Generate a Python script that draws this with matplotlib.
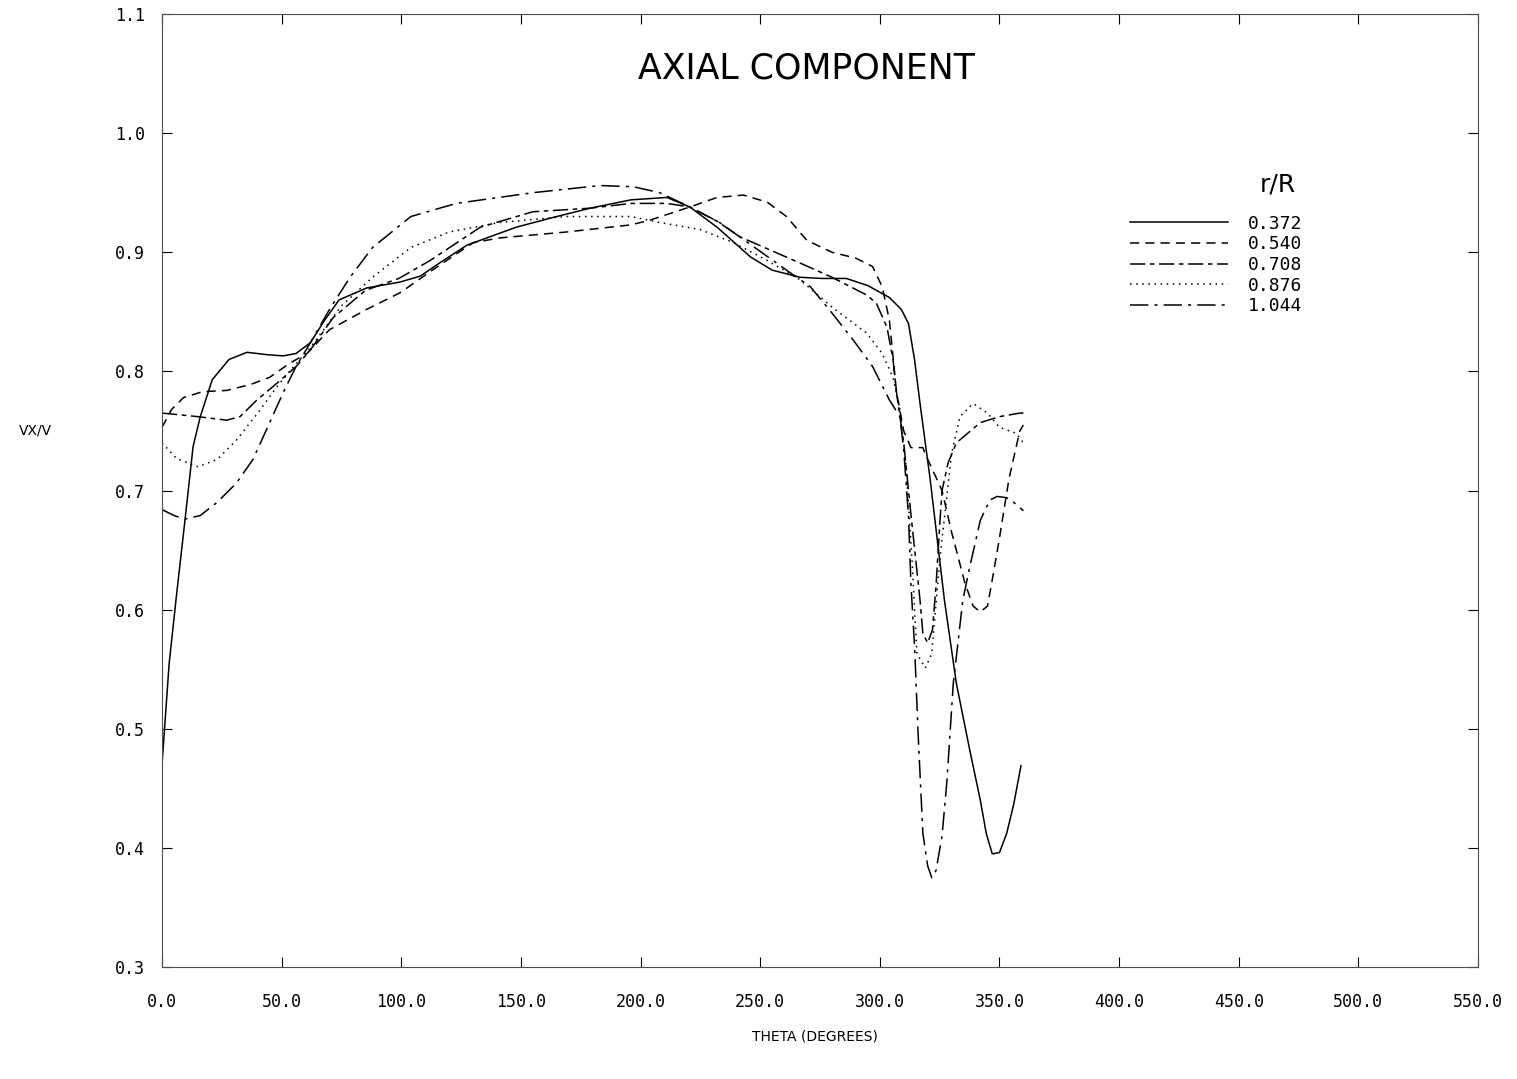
import matplotlib
matplotlib.use("Agg")
import matplotlib.pyplot as plt

# r/R = 0.372
theta_372 = [0, 3, 6, 9.6, 13, 16, 21, 28, 35.5, 44, 50.6, 56, 62, 68, 74, 85.5, 99.5,
             108, 116, 127.5, 148, 163, 179, 196, 211, 220.6, 232, 246, 255, 266.6, 276,
             286, 295, 304, 309, 312, 314.5, 317, 321, 327, 332, 337.6, 342, 344.5, 347,
             350, 353, 356, 359]
vx_372 = [0.47, 0.555, 0.611, 0.675, 0.737, 0.762, 0.793, 0.81, 0.816, 0.814, 0.813, 0.815,
          0.824, 0.843, 0.86, 0.87, 0.875, 0.88, 0.891, 0.906, 0.921, 0.929, 0.937, 0.944,
          0.946, 0.938, 0.921, 0.896, 0.885, 0.879, 0.878, 0.878, 0.872, 0.862, 0.852, 0.84,
          0.81, 0.77, 0.71, 0.608, 0.538, 0.482, 0.44, 0.412, 0.395, 0.396, 0.412, 0.437,
          0.469]

# r/R = 0.540
theta_540 = [0, 4, 9, 17, 27, 37, 45, 53.5, 60.6, 70, 85.5, 99.5, 113, 130, 141, 169, 196,
             204, 220.6, 232, 243, 253, 261, 269.5, 280, 290, 297, 301, 304, 307, 310, 313,
             318, 319.6, 326, 330, 335.6, 339, 342, 345, 347, 350, 354, 358.5, 360]
vx_540 = [0.753, 0.768, 0.778, 0.783, 0.784, 0.789, 0.795, 0.807, 0.815, 0.835, 0.852, 0.866,
          0.885, 0.908, 0.912, 0.917, 0.923, 0.927, 0.938, 0.946, 0.948, 0.942, 0.93, 0.91,
          0.9, 0.895, 0.888, 0.871, 0.843, 0.782, 0.75, 0.736, 0.736, 0.728, 0.7, 0.665,
          0.622, 0.603, 0.598, 0.603, 0.625, 0.66, 0.71, 0.75, 0.755]

# r/R = 0.708
theta_708 = [0, 5, 15, 27, 32.6, 39.7, 48, 56, 62, 71.5, 85, 99, 112, 133, 155, 179, 196,
             211, 220.6, 232, 241.5, 254, 266.6, 280, 294.6, 298.6, 303, 305.5, 307, 310,
             313, 316.8, 318, 320, 322, 323.5, 325, 326, 328.5, 332, 342, 350, 358.5, 360]
vx_708 = [0.765, 0.764, 0.762, 0.759, 0.762, 0.776, 0.79, 0.804, 0.818, 0.845, 0.868, 0.878,
          0.893, 0.921, 0.934, 0.937, 0.941, 0.941, 0.938, 0.926, 0.913, 0.902, 0.891, 0.879,
          0.864, 0.857, 0.837, 0.81, 0.782, 0.74, 0.68, 0.608, 0.58, 0.572, 0.583, 0.62,
          0.67, 0.7, 0.723, 0.74, 0.757, 0.762, 0.765, 0.765]

# r/R = 0.876
theta_876 = [0, 6, 15, 23, 31, 40, 48, 55, 62, 75, 88, 104, 120, 141, 169, 196, 208, 225,
             239, 253, 266.6, 280, 294.6, 301, 305.5, 308.4, 311, 313.5, 315.5, 319, 321.7,
             323, 325.5, 328, 330, 333.5, 339, 345, 350, 357, 360]
vx_876 = [0.74, 0.727, 0.72, 0.726, 0.742, 0.765, 0.787, 0.804, 0.82, 0.855, 0.879, 0.904,
          0.917, 0.925, 0.93, 0.93, 0.925, 0.919, 0.908, 0.893, 0.877, 0.854, 0.832, 0.815,
          0.795, 0.768, 0.72, 0.64, 0.563, 0.551, 0.563, 0.594, 0.65, 0.695, 0.731, 0.762,
          0.773, 0.765, 0.753, 0.748, 0.74]

# r/R = 1.044
theta_1044 = [0, 5, 9.6, 16, 23, 31, 38, 45, 50.6, 56, 62, 70, 78.6, 88, 104, 123, 155, 183,
              197, 208, 220.6, 233, 247, 261, 271, 280, 289, 297, 304, 308.4, 310, 312, 313,
              314.6, 316, 318, 320, 321.7, 323.5, 326, 328, 330.7, 334.7, 337.6, 342, 346,
              349, 353, 356, 360]
vx_1044 = [0.684, 0.679, 0.676, 0.679, 0.69, 0.706, 0.726, 0.757, 0.782, 0.804, 0.824, 0.852,
           0.879, 0.904, 0.93, 0.941, 0.95, 0.956, 0.955, 0.95, 0.938, 0.925, 0.905, 0.885,
           0.871, 0.849, 0.826, 0.804, 0.776, 0.762, 0.734, 0.678, 0.622, 0.566, 0.496,
           0.412, 0.385, 0.375, 0.381, 0.41, 0.455, 0.538, 0.608, 0.636, 0.675, 0.692,
           0.695, 0.694, 0.69, 0.683]

labels = ["0.372", "0.540", "0.708", "0.876", "1.044"]
x_ticks = [0, 50, 100, 150, 200, 250, 300, 350, 400, 450, 500, 550]
y_ticks = [0.3, 0.4, 0.5, 0.6, 0.7, 0.8, 0.9, 1.0, 1.1]

fig = plt.figure(figsize=(15.17, 10.79), dpi=100)
ax = fig.add_axes([162 / 1517, 1 - 967 / 1079, 1316 / 1517, 953 / 1079])

lw = 1.1
ax.plot(theta_372, vx_372, color="black", lw=lw, linestyle="-", label=labels[0])
ax.plot(theta_540, vx_540, color="black", lw=lw, linestyle=(0, (6, 4)), label=labels[1])
ax.plot(theta_708, vx_708, color="black", lw=lw, linestyle=(0, (10, 3, 3, 3)), label=labels[2])
ax.plot(theta_876, vx_876, color="black", lw=lw, linestyle=(0, (1, 3)), label=labels[3])
ax.plot(theta_1044, vx_1044, color="black", lw=lw, linestyle=(0, (12, 4, 2, 4)), label=labels[4])

ax.set_xlim(0, 550)
ax.set_ylim(0.3, 1.1)
ax.set_xticks(x_ticks)
ax.set_yticks(y_ticks)
ax.set_xticklabels([f"{v:.1f}" for v in x_ticks])
ax.set_yticklabels([f"{v:.1f}" for v in y_ticks])
ax.tick_params(direction="in", length=7, width=0.8, top=True, right=True,
               labelsize=12, colors="black")
ax.tick_params(axis="x", pad=19)
ax.tick_params(axis="y", pad=12)
for lab in ax.get_xticklabels() + ax.get_yticklabels():
    lab.set_family("DejaVu Sans Mono")
for sp in ax.spines.values():
    sp.set_linewidth(0.8)
    sp.set_color("0.3")

ax.text(0.49, 0.943, "AXIAL COMPONENT", transform=ax.transAxes, ha="center", va="center",
        fontsize=25, color="black")
ax.text(0.848, 0.8206, "r/R", transform=ax.transAxes, ha="center", va="center",
        fontsize=18, color="black")
leg = ax.legend(loc="upper left", bbox_to_anchor=(0.7356, 0.7895), frameon=False,
                handlelength=5.4, handletextpad=1.1, labelspacing=0.15, borderpad=0,
                borderaxespad=0, prop={"family": "DejaVu Sans Mono", "size": 13})

fig.text(35 / 1517, 1 - 430 / 1079, "VX/V", ha="center", va="center", fontsize=10)
fig.text(815 / 1517, 1 - 1036 / 1079, "THETA (DEGREES)", ha="center", va="center", fontsize=10)

fig.savefig("out.png", dpi=100, facecolor="white")
